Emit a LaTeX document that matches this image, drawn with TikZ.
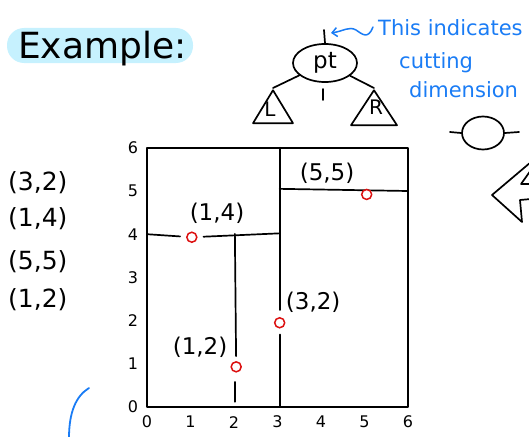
\documentclass[tikz,border=0pt]{standalone}
\usepackage{fontspec}
\setmainfont{DejaVu Sans}
\usetikzlibrary{arrows.meta,positioning,shapes.geometric}
\definecolor{marker}{HTML}{C6F1FE}
\definecolor{ink}{HTML}{1A7CF5}
\definecolor{pointred}{HTML}{DC1010}

\begin{document}
\begin{tikzpicture}[x=1pt, y=-1pt,
    pen/.style={line width=1.7pt, line cap=round, line join=round},
    highlight/.style={fill=marker, rounded corners=17pt, minimum width=186pt, minimum height=35pt},
    note/.style={text=ink, font=\fontsize{21}{23}\selectfont, inner sep=0pt, anchor=west},
    pointlbl/.style={font=\fontsize{23}{25}\selectfont, inner sep=0pt},
    listlbl/.style={font=\fontsize{25}{27}\selectfont, inner sep=0pt, anchor=west},
    tick/.style={font=\fontsize{16}{17}\selectfont, inner sep=0pt},
    subtree/.style={draw, pen, isosceles triangle, shape border rotate=90, isosceles triangle stretches, inner sep=0pt, anchor=apex},
    site/.style={circle, draw=pointred, fill=white, line width=1.5pt, minimum size=10pt, inner sep=0pt}
]
    \useasboundingbox (0,0) rectangle (529,436);

    % title
    \node[highlight] (hl) at (100,45.5) {};
    \node[font=\fontsize{36}{38}\selectfont, inner sep=0pt, anchor=base west] (title) at (18,58) {Example:};

    % tree node with its cutting mark
    \node[ellipse, draw, pen, minimum width=64pt, minimum height=38pt, inner sep=0pt, font=\fontsize{23}{25}\selectfont] (pt) at (325,63) {pt};
    \node[subtree, minimum width=40pt, minimum height=33pt] (ltree) at (273,88) {};
    \node[subtree, minimum width=46pt, minimum height=35pt] (rtree) at (374,88) {};
    \node[font=\fontsize{20}{22}\selectfont, inner sep=0pt] (ltxt) at (270,109) {L};
    \node[font=\fontsize{20}{22}\selectfont, inner sep=0pt] (rtxt) at (376,107) {R};
    \draw[pen] (pt) -- (ltree.apex);
    \draw[pen] (pt) -- (rtree.apex);
    \coordinate (cuttop) at (324,30);
    \coordinate (cutlow) at (323,89);
    \coordinate (cutend) at (323,100);
    \draw[pen] (cuttop) -- (pt.north);
    \draw[pen] (cutlow) -- (cutend);

    % annotation
    \coordinate (notetail) at (373,27);
    \coordinate (notetip) at (331,33);
    \draw[ink, line width=1.5pt, line cap=round, -{Straight Barb[length=5pt, width=9pt]}]
        (notetail) .. controls (368,40) and (362,34) .. (356,30)
        .. controls (349,26) and (344,31) .. (notetip);
    \node[note] (note1) at (378,28) {This indicates};
    \node[note] (note2) at (399,63) {cutting};
    \node[note] (note3) at (409,90) {dimension};

    % small cut symbol
    \node[ellipse, draw, pen, minimum width=42pt, minimum height=33pt] (cutsym) at (483,133) {};
    \coordinate (cutw) at (450,132);
    \coordinate (cute) at (519,132);
    \draw[pen] (cutw) -- (cutsym.west);
    \draw[pen] (cutsym.east) -- (cute);

    % big arrow at the edge
    \draw[pen] (531,162) -- (492,195) -- (522,222) -- (520,200) -- (531,199);
    \draw[pen] (531,170) -- (521,184) -- (531,184);

    % blue stroke
    \draw[ink, line width=1.8pt, line cap=round] (89,388) .. controls (76,396) and (69,412) .. (69,438);

    % list of points
    \node[listlbl] (l1) at (8,183) {(3,2)};
    \node[listlbl] (l2) at (8,219) {(1,4)};
    \node[listlbl] (l3) at (8,262) {(5,5)};
    \node[listlbl] (l4) at (8,300) {(1,2)};

    % the plane
    \begin{scope}[shift={(147,407)}, x=43.5pt, y=43.2pt]
        \draw[pen, line width=1.5pt] (0,0) rectangle (6,6);
        \foreach \i in {0,...,6} {
            \node[tick] (xt\i) at (\i,-0.35) {\i};
            \node[tick] (yt\i) at (-0.32,\i) {\i};
        }

        \coordinate (v3top) at (3.05,6);
        \coordinate (v3bot) at (3.05,0);
        \coordinate (h5west) at (3.05,5.05);
        \coordinate (h5east) at (6,5);
        \coordinate (h4west) at (0,4);
        \coordinate (h4east) at (3.05,4.02);
        \coordinate (v2top) at (2.02,4.01);
        \coordinate (v2low) at (2.03,0.58);
        \coordinate (v2end) at (2.03,0.12);

        \draw[pen] (h5west) -- (h5east);

        \node[site] (p32) at (3.05,1.95) {};
        \node[site] (p14) at (1.03,3.93) {};
        \node[site] (p55) at (5.05,4.92) {};
        \node[site] (p12) at (2.05,0.93) {};

        \draw[pen, shorten >=7pt] (v3top) -- (p32);
        \draw[pen, shorten <=6pt] (p32) -- (v3bot);
        \draw[pen, shorten >=6pt] (h4west) -- (p14);
        \draw[pen, shorten <=6pt] (p14) -- (h4east);
        \draw[pen, shorten >=5pt] (v2top) -- (p12);
        \draw[pen] (v2low) -- (v2end);

        \node[pointlbl] (t55) at (4.14,5.42) {(5,5)};
        \node[pointlbl] (t14) at (1.61,4.49) {(1,4)};
        \node[pointlbl] (t32) at (3.82,2.43) {(3,2)};
        \node[pointlbl] (t12) at (1.22,1.39) {(1,2)};
    \end{scope}
\end{tikzpicture}
\end{document}
